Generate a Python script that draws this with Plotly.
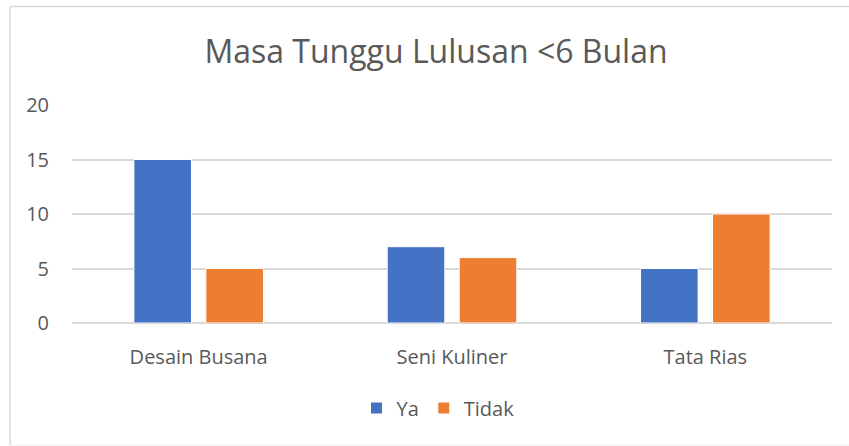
import plotly.graph_objects as go

categories = ["Desain Busana", "Seni Kuliner", "Tata Rias"]
ya_values = [15, 7, 5]
tidak_values = [5, 6, 10]
y_ticks = [0, 5, 10, 15, 20]

W, H = 849, 446
L, R, T, B = 72, 17, 105, 123
pw, ph = W - L - R, H - T - B

def px(x):
    return (x - L) / pw

def py(y):
    return (H - B - y) / ph

font_family = "Open Sans, Noto Sans, sans-serif"
grey = "#595959"
border = "#d9d9d9"

fig = go.Figure()
fig.add_trace(go.Bar(name="Ya", x=categories, y=ya_values,
                     marker=dict(color="#4472C4", line=dict(color="#ffffff", width=1))))
fig.add_trace(go.Bar(name="Tidak", x=categories, y=tidak_values,
                     marker=dict(color="#ED7D31", line=dict(color="#ffffff", width=1))))

fig.update_layout(
    width=W, height=H,
    margin=dict(l=L, r=R, t=T, b=B),
    paper_bgcolor="white", plot_bgcolor="white",
    barmode="group", bargap=0.4316, bargroupgap=0.2,
    title=dict(text="Masa Tunggu Lulusan <6 Bulan", xref="container", x=436 / W, xanchor="center",
               y=1 - 52 / H, yanchor="middle",
               font=dict(family=font_family, size=32, color=grey)),
    font=dict(family=font_family, size=20, color=grey),
    xaxis=dict(showgrid=False, showline=False, ticks="", ticklabelstandoff=20,
               tickfont=dict(size=20, color=grey)),
    yaxis=dict(range=[0, 20], tickvals=y_ticks, showgrid=True, gridcolor="#d9d9d9",
               gridwidth=1.5, zeroline=True, zerolinecolor="#d9d9d9", zerolinewidth=1.5,
               ticks="", ticklabelstandoff=22, tickfont=dict(size=20, color=grey)),
    legend=dict(orientation="h", x=px(438), xanchor="center", y=py(408), yanchor="middle",
                font=dict(size=20, color=grey), itemwidth=30),
    showlegend=True,
)

# chart border (top, left, bottom), right edge lies beyond the window
fig.add_shape(type="line", xref="paper", yref="paper", x0=px(10), x1=px(849), y0=py(6.5), y1=py(6.5),
              line=dict(color=border, width=1.5), layer="below")
fig.add_shape(type="line", xref="paper", yref="paper", x0=px(10), x1=px(10), y0=py(6.5), y1=py(445),
              line=dict(color=border, width=1.5), layer="below")
fig.add_shape(type="line", xref="paper", yref="paper", x0=px(10), x1=px(849), y0=py(445), y1=py(445),
              line=dict(color="#eeeeee", width=1), layer="below")

fig.write_html("out.html", config={"displayModeBar": False},
               post_script="document.body.style.margin='0';document.body.style.overflow='hidden';")
